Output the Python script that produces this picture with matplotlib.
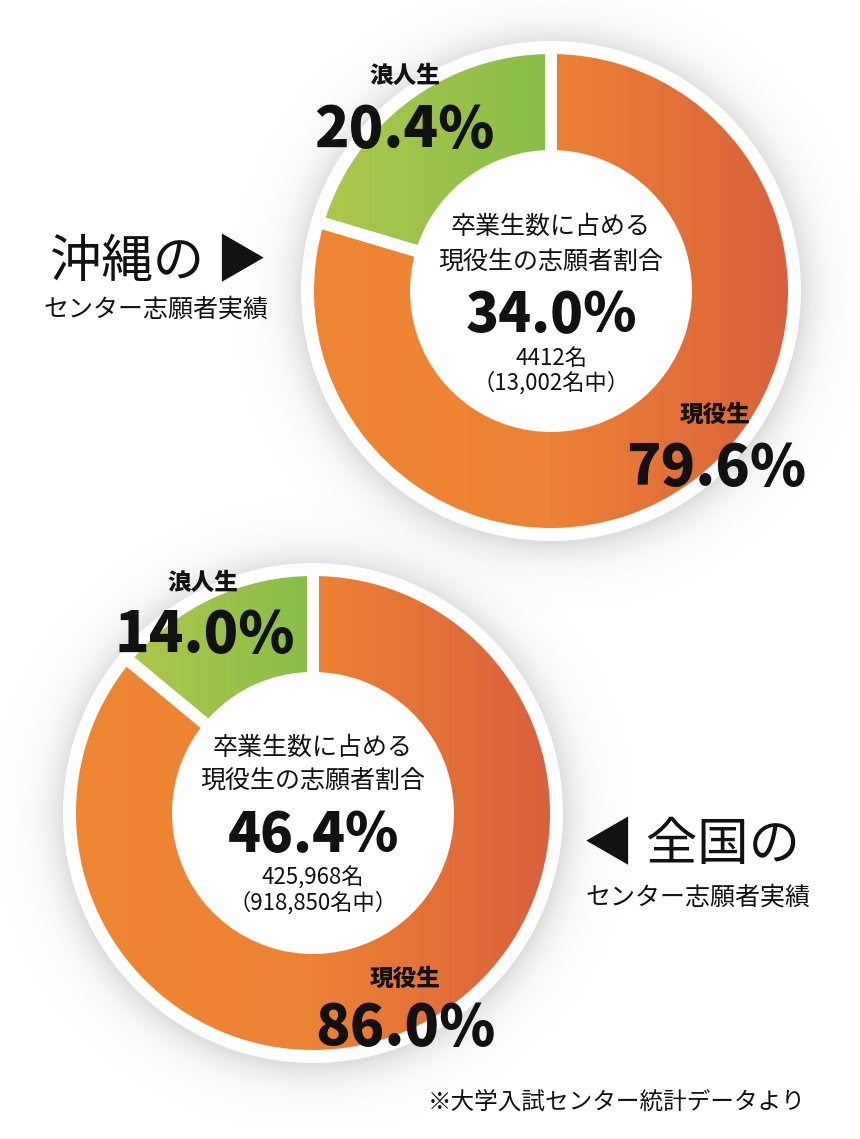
import numpy as np
import matplotlib
matplotlib.use('Agg')
from matplotlib import pyplot as plt
from matplotlib.patches import Circle
from matplotlib.colors import LinearSegmentedColormap

plt.rcParams['font.family'] = ['Noto Sans CJK JP', 'DejaVu Sans']

# data
segment_labels = ['浪人生', '現役生']
okinawa_share = [20.4, 79.6]
zenkoku_share = [14.0, 86.0]
okinawa_rate = 34.0
okinawa_count = '4412'
okinawa_total = '13,002'
zenkoku_rate = 46.4
zenkoku_count = '425,968'
zenkoku_total = '918,850'

W, H = 860, 1139
fig = plt.figure(figsize=(W / 100, H / 100), dpi=100)
ax = fig.add_axes([0, 0, 1, 1])
ax.set_axis_off()


def py(y):
    # picture rows -> data y (y axis goes up)
    return H - y


orange_cmap = LinearSegmentedColormap.from_list('org', ['#ef8632', '#ec8234', '#d9603c'])
green_cmap = LinearSegmentedColormap.from_list('grn', ['#acc84c', '#88bd48'])

R_OUT = 237
R_IN = 141
GAP = 12      # px of white between slices
RING = 13     # white rim outside the ring


def shadow(cx, cy, rw):
    pad = 70
    x0, x1 = cx - rw - pad, cx + rw + pad
    y0, y1 = cy - rw - pad, cy + rw + pad
    xs = np.arange(x0, x1)
    ys = np.arange(y0, y1)
    xx, yy = np.meshgrid(xs, ys)
    d = np.hypot(xx - cx, yy - (cy - 3))
    a = 0.22 * np.exp(-np.clip(d - rw, 0, None) / 18.0)
    img = np.zeros(xx.shape + (4,))
    img[..., :3] = 0.42
    img[..., 3] = a
    ax.imshow(img, extent=(x0, x1, y0, y1), origin='lower', zorder=1,
              aspect='auto', interpolation='bilinear')


def donut(cx, cy, shares):
    cy = py(cy)
    shadow(cx, cy, R_OUT + RING)
    ax.add_patch(Circle((cx, cy), R_OUT + RING, fc='white', ec='none', zorder=2))
    wedges, _ = ax.pie(shares, center=(cx, cy), radius=R_OUT + GAP / 2,
                       startangle=90, counterclock=True,
                       wedgeprops=dict(width=R_OUT - R_IN + GAP, fc='none',
                                       ec='white', lw=GAP * 72 / 100,
                                       joinstyle='miter', zorder=4))
    grad = np.linspace(0, 1, 256).reshape(1, -1)
    # green slice: gradient over its own width
    gx0 = cx + (R_OUT) * np.cos(np.radians(90 + 360 * shares[0] / 100))
    im = ax.imshow(grad, cmap=green_cmap, extent=(gx0, cx, cy, cy + R_OUT + 5),
                   aspect='auto', zorder=3)
    im.set_clip_path(wedges[0])
    im = ax.imshow(grad, cmap=orange_cmap,
                   extent=(cx - R_OUT - 5, cx + R_OUT + 5, cy - R_OUT - 5, cy + R_OUT + 5),
                   aspect='auto', zorder=3)
    im.set_clip_path(wedges[1])


donut(551, 291, okinawa_share)
donut(313, 813, zenkoku_share)

ax.set_xlim(0, W)
ax.set_ylim(0, H)


def txt(x, y, s, size, weight='normal', va='center', ha='center'):
    ax.text(x, py(y), s, fontsize=size, fontweight=weight, ha=ha, va=va,
            color='#111111', zorder=6)


def pct(v):
    return f'{v:.1f}%'


BIG = 41
MID = 39

# okinawa
txt(405, 76, segment_labels[0], 17, 'heavy')
txt(404, 147, pct(okinawa_share[0]), BIG, 'heavy', va='baseline')
txt(551, 227, '卒業生数に占める', 18)
txt(551, 262, '現役生の志願者割合', 18)
txt(551, 332, pct(okinawa_rate), MID, 'heavy', va='baseline')
txt(551, 358, okinawa_count + '名', 16)
txt(551, 383, '（' + okinawa_total + '名中）', 16)
txt(715, 415, segment_labels[1], 17, 'heavy')
txt(716, 485, pct(okinawa_share[1]), BIG, 'heavy', va='baseline')
txt(50, 262, '沖縄の ▶', 37, ha='left')
txt(156, 310, 'センター志願者実績', 18)

# zenkoku
txt(203, 583, segment_labels[0], 17, 'heavy')
txt(205, 652, pct(zenkoku_share[0]), BIG, 'heavy', va='baseline')
txt(313, 748, '卒業生数に占める', 18)
txt(313, 781, '現役生の志願者割合', 18)
txt(313, 852, pct(zenkoku_rate), MID, 'heavy', va='baseline')
txt(313, 878, zenkoku_count + '名', 16)
txt(313, 903, '（' + zenkoku_total + '名中）', 16)
txt(405, 978, segment_labels[1], 17, 'heavy')
txt(405, 1045, pct(zenkoku_share[1]), BIG, 'heavy', va='baseline')
txt(800, 845, '◀ 全国の', 37, ha='right')
txt(698, 898, 'センター志願者実績', 18)

txt(617, 1102, '※大学入試センター統計データより', 17)

fig.savefig('out.png', dpi=100)
